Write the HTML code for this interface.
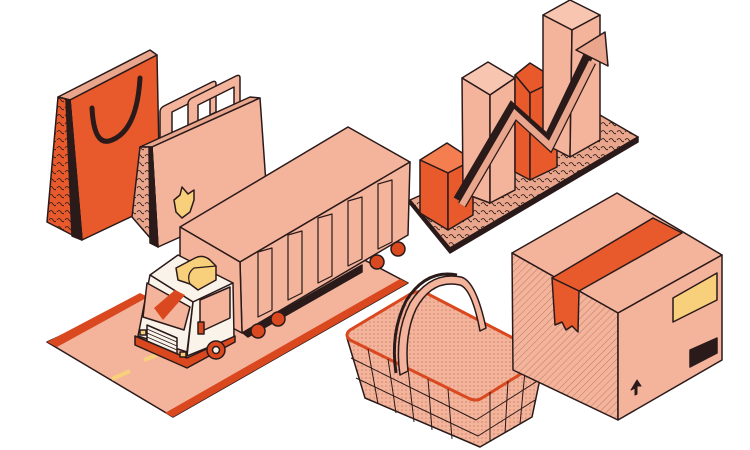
<!DOCTYPE html>
<html><head><meta charset="utf-8"><style>html,body{margin:0;padding:0;background:#fff}svg{display:block}</style></head>
<body>
<svg width="750" height="450" viewBox="0 0 750 450" xmlns="http://www.w3.org/2000/svg" stroke="#2b1a1a" stroke-width="1.5" stroke-linejoin="round">
<defs>
<pattern id="sq" width="8" height="8" patternUnits="userSpaceOnUse"><rect width="8" height="8" fill="#E9A68C" stroke="none"/><path d="M1 4 q2 -3 4 0 t3 1" fill="none" stroke="#2b1a1a" stroke-width="0.8"/></pattern>
<pattern id="sqo" width="8" height="8" patternUnits="userSpaceOnUse"><rect width="8" height="8" fill="#E85A2C" stroke="none"/><path d="M1 4 q2 -3 4 0 t3 1" fill="none" stroke="#2b1a1a" stroke-width="0.8"/></pattern>
<pattern id="hatch" width="5" height="5" patternUnits="userSpaceOnUse" patternTransform="rotate(45)"><rect width="5" height="5" fill="#F4B49C" stroke="none"/><line x1="0" y1="0" x2="0" y2="5" stroke="#b06a52" stroke-width="0.8"/></pattern>
<pattern id="dots" width="4" height="4" patternUnits="userSpaceOnUse"><rect width="4" height="4" fill="#F4B49C" stroke="none"/><circle cx="2" cy="2" r="0.6" fill="#b56a50" stroke="none"/></pattern>
</defs>
<!-- road -->
<polygon points="47,342 300,226 408,283 173,417" fill="#F4B49C"/>
<polygon points="47,342 140,293 148,297 57,347" fill="#D9481F" stroke="none"/>
<polygon points="165,413 400,279 408,283 173,417" fill="#D9481F" stroke="none"/>
<line x1="112" y1="379" x2="130" y2="371" stroke="#F8CF7A" stroke-width="4"/>
<line x1="144" y1="360" x2="157" y2="355" stroke="#F8CF7A" stroke-width="4"/>
<!-- orange bag -->
<polygon points="58,97 150,50 157,55 70,100" fill="#E9A68C"/>
<polygon points="70,100 157,55 160,203 82,240" fill="#E85A2C"/>
<polygon points="58,97 70,100 82,240 47,222" fill="url(#sqo)"/>
<polygon points="66,100 70,100 82,240 72,236" fill="#2b1a1a"/>
<path d="M92,108 q2,40 20,32 q25,-10 28,-62" fill="none" stroke-width="5" stroke-linecap="round"/>
<!-- peach bag -->
<path d="M160,140 v-28 q0,-4 4,-6 l48,-24 q4,-2 4,2 v28 l-6,3 v-22 l-38,19 v24z" fill="#F4B49C"/>
<path d="M188,126 v-22 q0,-4 4,-6 l44,-22 q4,-2 4,2 v24 l-6,3 v-18 l-36,18 v18z" fill="#F4B49C"/>
<polygon points="140,147 250,97 260,98 152,147" fill="#E9A68C"/>
<polygon points="152,147 260,98 267,198 158,247" fill="#F4B49C"/>
<polygon points="140,147 152,147 158,247 132,217" fill="url(#sq)"/>
<polygon points="149,148 152,147 158,247 150,243" fill="#2b1a1a"/>
<polygon points="174,200 180,195 182,187 188,194 194,190 194,200 190,212 182,218 176,212" fill="#F8CF7A"/>
<!-- chart -->
<polygon points="410,200 600,115 638,137 450,248" fill="url(#sq)"/>
<polygon points="410,200 450,248 638,137 638,142 450,253 410,204" fill="#2b1a1a"/>
<polygon points="420,160 447,143 473,160 448,173" fill="#F47E50"/>
<polygon points="420,160 448,173 448,230 420,213" fill="#E85A2C"/>
<polygon points="448,173 473,160 473,215 448,230" fill="#E85A2C"/>
<polygon points="462,78 488,62 515,78 490,95" fill="#F8C6B0"/>
<polygon points="462,78 490,95 490,203 463,193" fill="#F4B49C"/>
<polygon points="490,95 515,78 515,190 490,203" fill="#F4B49C"/>
<polygon points="515,75 530,63 557,80 530,93" fill="#E85A2C"/>
<polygon points="515,75 530,93 530,180 515,172" fill="#E85A2C"/>
<polygon points="530,93 557,80 557,167 530,180" fill="#E85A2C"/>
<polygon points="543,15 570,0 600,15 572,30" fill="#F8C6B0"/>
<polygon points="543,15 572,30 570,157 543,143" fill="#F4B49C"/>
<polygon points="572,30 600,15 600,140 570,157" fill="#F4B49C"/>
<polyline points="458,200 512,108 548,140 588,56" fill="none" stroke="#2b1a1a" stroke-width="10" stroke-linejoin="miter"/>
<polyline points="462,205 515,114 550,146 592,62" fill="none" stroke="#2b1a1a" stroke-width="9" stroke-linejoin="miter"/>
<polyline points="462,205 515,114 550,146 592,62" fill="none" stroke="#E9A68C" stroke-width="6.5" stroke-linejoin="miter"/>
<polygon points="576,50 605,32 608,66" fill="#E9A68C"/>
<!-- truck container -->
<polygon points="180,227 348,127 410,162 240,262" fill="#F4B49C"/>
<polygon points="240,262 410,162 408,235 242,333" fill="#F4B49C"/>
<polygon points="180,227 240,262 242,333 180,300" fill="#F4B49C"/>
<polygon points="243,333 362,265 362,272 248,337" fill="#2b1a1a"/>
<g fill="none" stroke-width="1.2">
<polygon points="258,252 272,248 272,310 258,317"/>
<polygon points="288,235 302,231 302,293 288,300"/>
<polygon points="318,218 332,214 332,276 318,283"/>
<polygon points="348,201 362,197 362,259 348,266"/>
<polygon points="378,184 392,180 392,242 378,249"/>
</g>
<circle cx="258" cy="331" r="7" fill="#D9481F"/><circle cx="278" cy="319" r="7" fill="#D9481F"/>
<circle cx="377" cy="262" r="7" fill="#D9481F"/><circle cx="398" cy="249" r="7" fill="#D9481F"/>
<!-- cab -->
<polygon points="150,275 178,255 233,283 193,302" fill="#FAF3EA"/>
<polygon points="150,275 193,302 187,352 138,336" fill="#FAF3EA"/>
<polygon points="193,302 233,283 234,337 187,356" fill="#FAF3EA"/>
<polygon points="147,283 190,307 184,330 143,317" fill="#F4B49C"/>
<polygon points="154,308 175,290 185,295 163,320" fill="#D9481F" stroke="none"/>
<polygon points="200,300 230,287 230,318 200,332" fill="#F4B49C"/>
<path d="M176,268 L195,258 Q203,254 210,260 L216,266 L216,280 L198,290 L190,284 L178,280Z" fill="#F8CF7A"/>
<path d="M190,284 Q186,274 194,268 L216,266" fill="none" stroke-width="1.2"/>
<polygon points="147,325 177,338 177,356 147,343" fill="#FAF3EA"/>
<g stroke-width="0.9"><line x1="147" y1="329" x2="177" y2="342"/><line x1="147" y1="333" x2="177" y2="346"/><line x1="147" y1="337" x2="177" y2="350"/><line x1="147" y1="341" x2="177" y2="354"/></g>
<rect x="198" y="322" width="6" height="12" fill="#D9481F"/>
<polygon points="135,336 187,358 235,336 235,342 187,368 135,345" fill="#D9481F"/>
<rect x="140" y="330" width="6" height="5" fill="#F8CF7A"/><rect x="180" y="352" width="6" height="5" fill="#F8CF7A"/>
<circle cx="216" cy="350" r="9" fill="#D9481F"/><circle cx="216" cy="350" r="3.5" fill="#FAF3EA"/>
<!-- basket -->
<path d="M347,338 L365,398 L480,447 L532,417 L544,360" fill="url(#dots)" stroke="#2b1a1a"/>
<path d="M350,330 L412,293 Q420,290 428,294 L540,352 Q546,358 540,362 L482,398 Q476,402 468,398 L350,340 Q344,335 350,330Z" fill="url(#dots)" stroke="#D9481F" stroke-width="3"/>
<path d="M400,375 q-6,-40 10,-72 q20,-32 51,-26 q15,4 25,51 l-6,3 q-8,-42 -20,-46 q-28,-6 -44,24 q-12,26 -8,62z" fill="#F4B49C"/>
<path d="M396,373 q-6,-40 10,-72 q20,-32 51,-26" fill="none" stroke="#2b1a1a" stroke-width="3"/>
<g stroke="#2b1a1a" stroke-width="1" fill="none">
<line x1="368" y1="349" x2="378" y2="404"/><line x1="388" y1="359" x2="396" y2="413"/><line x1="408" y1="369" x2="414" y2="422"/><line x1="428" y1="379" x2="432" y2="430"/><line x1="448" y1="389" x2="452" y2="439"/>
<line x1="490" y1="392" x2="490" y2="442"/><line x1="508" y1="381" x2="505" y2="433"/><line x1="525" y1="371" x2="520" y2="424"/>
<path d="M351,358 L476,420 L539,380"/><path d="M356,378 L478,436 L535,400"/>
</g>
<!-- box -->
<polygon points="512,253 617,193 722,255 618,313" fill="#F4B49C"/>
<polygon points="512,253 618,313 618,420 513,370" fill="url(#hatch)"/>
<polygon points="618,313 722,255 722,360 618,420" fill="#F4B49C"/>
<polygon points="552,278 653,218 682,233 579,291" fill="#E85A2C"/>
<polygon points="552,278 579,291 578,332 572,326 566,330 562,322 555,325" fill="#E85A2C"/>
<polygon points="673,298 717,273 717,300 673,322" fill="#F8CF7A"/>
<polygon points="690,350 717,338 717,353 690,367" fill="#2b1a1a"/>
<polygon points="635,395 635,388 631,390 637,380 641,386 637,386 637,394" fill="#2b1a1a" stroke-width="1"/>
</svg>
</body></html>
